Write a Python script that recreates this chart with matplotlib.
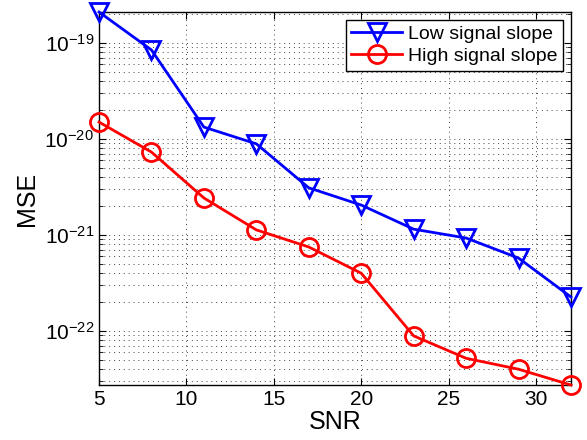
import matplotlib
matplotlib.use("Agg")
import matplotlib.pyplot as plt
from matplotlib.ticker import FixedLocator, NullFormatter, LogFormatterSciNotation

snr = [5, 8, 11, 14, 17, 20, 23, 26, 29, 32]
low_slope = [2.1e-19, 8.45e-20, 1.33e-20, 8.9e-21, 3.1e-21, 2.05e-21, 1.15e-21, 9.3e-22, 5.75e-22, 2.26e-22]
high_slope = [1.5e-20, 7.3e-21, 2.43e-21, 1.13e-21, 7.5e-22, 4.0e-22, 8.9e-23, 5.2e-23, 4.0e-23, 2.74e-23]
x_ticks = [5, 10, 15, 20, 25, 30]
y_decades = [-22, -21, -20, -19]
labels = ["Low signal slope", "High signal slope"]

plt.rcParams['font.family'] = ['Liberation Sans', 'DejaVu Sans']
plt.rcParams['mathtext.fontset'] = 'custom'
plt.rcParams['mathtext.rm'] = 'Liberation Sans'

fig = plt.figure(figsize=(5.87, 4.40), dpi=100)
ax = fig.add_axes([0.1687, 0.125, 0.804, 0.8477])

ax.semilogy(snr, low_slope, color='#0000ff', lw=2, marker='v', ms=13,
            mfc='none', mec='#0000ff', mew=2, label=labels[0], clip_on=False, zorder=3)
ax.semilogy(snr, high_slope, color='#ff0000', lw=2, marker='o', ms=13,
            mfc='none', mec='#ff0000', mew=2, label=labels[1], clip_on=False, zorder=3)

ax.set_xlim(5, 32)
ax.set_ylim(2.74e-23, 2.1e-19)
ax.set_xticks(x_ticks)
major = [10.0 ** d for d in y_decades]
minor = [m * 10.0 ** d for d in [-23] + y_decades for m in range(2, 10)]
minor = [v for v in minor if 2.74e-23 <= v <= 2.1e-19]
ax.yaxis.set_major_locator(FixedLocator(major))
ax.yaxis.set_major_formatter(LogFormatterSciNotation())
ax.yaxis.set_minor_locator(FixedLocator(minor))
ax.yaxis.set_minor_formatter(NullFormatter())

ax.grid(True, which='major', linestyle=(0, (1, 4)), color='#444444', lw=0.7)
ax.grid(True, which='minor', axis='y', linestyle=(0, (1, 4)), color='#444444', lw=0.7)

ax.tick_params(which='both', direction='in', top=True, right=True, labelsize=15)
ax.tick_params(which='major', length=5)
ax.tick_params(which='minor', length=3)
for s in ax.spines.values():
    s.set_linewidth(1)

ax.set_xlabel('SNR', fontsize=18, labelpad=1)
ax.set_ylabel('MSE', fontsize=18, labelpad=4)

leg = ax.legend(loc='upper right', fontsize=14, fancybox=False, framealpha=1,
                edgecolor='black', handlelength=2.6, borderpad=0.3,
                labelspacing=0.2, handletextpad=0.3, borderaxespad=0.4)
leg.get_frame().set_linewidth(1)

fig.savefig('out.png', dpi=100)
